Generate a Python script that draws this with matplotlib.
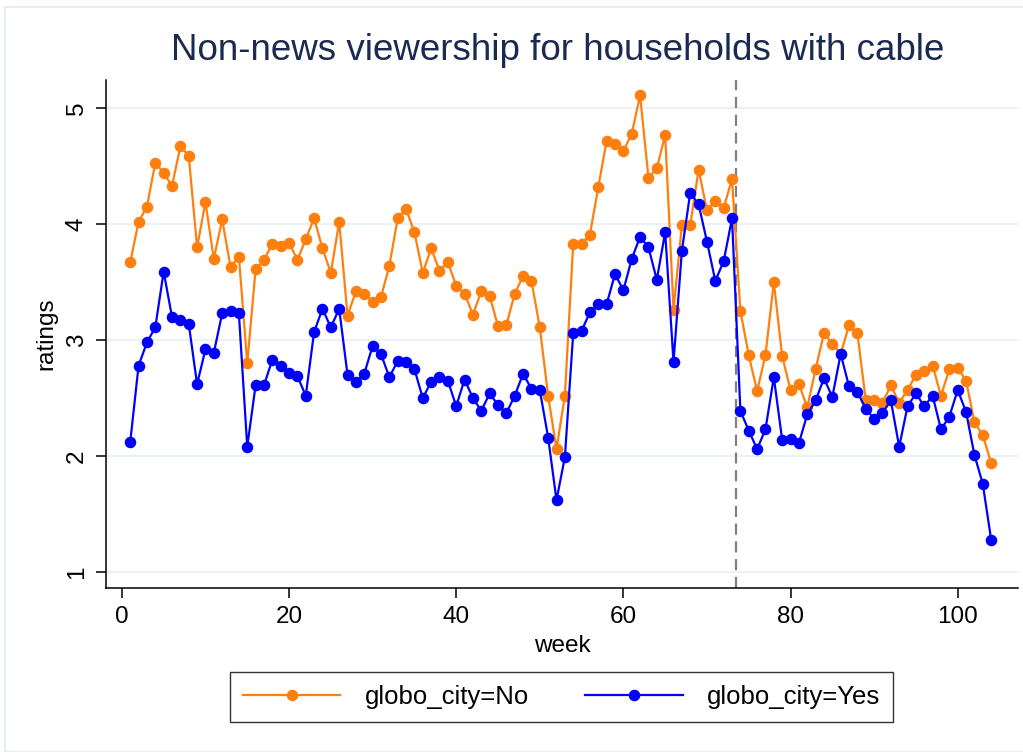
import matplotlib.pyplot as plt
from matplotlib.patches import Rectangle

plt.rcParams['font.family'] = ['Liberation Sans', 'DejaVu Sans']

# weekly ratings
weeks = list(range(1, 105))
ratings_no = [
    3.67, 4.02, 4.15, 4.53, 4.44, 4.33, 4.67, 4.59, 3.80, 4.19,
    3.70, 4.04, 3.63, 3.72, 2.80, 3.61, 3.69, 3.83, 3.81, 3.84,
    3.69, 3.87, 4.05, 3.79, 3.58, 4.02, 3.21, 3.42, 3.40, 3.33,
    3.37, 3.64, 4.05, 4.13, 3.93, 3.58, 3.79, 3.60, 3.67, 3.47,
    3.40, 3.22, 3.42, 3.38, 3.12, 3.13, 3.40, 3.55, 3.51, 3.11,
    2.52, 2.06, 2.52, 3.83, 3.83, 3.91, 4.32, 4.72, 4.69, 4.63,
    4.78, 5.11, 4.40, 4.48, 4.77, 3.26, 3.99, 3.99, 4.47, 4.12,
    4.20, 4.14, 4.39, 3.25, 2.87, 2.56, 2.87, 3.50, 2.86, 2.57,
    2.62, 2.42, 2.75, 3.06, 2.97, 2.88, 3.13, 3.06, 2.48, 2.48,
    2.46, 2.61, 2.46, 2.57, 2.70, 2.73, 2.78, 2.52, 2.75, 2.76,
    2.65, 2.29, 2.18, 1.94,
]
ratings_yes = [
    2.12, 2.78, 2.98, 3.11, 3.59, 3.20, 3.17, 3.14, 2.62, 2.92,
    2.89, 3.23, 3.25, 3.23, 2.08, 2.61, 2.61, 2.83, 2.78, 2.72,
    2.69, 2.52, 3.07, 3.27, 3.11, 3.27, 2.70, 2.64, 2.71, 2.95,
    2.88, 2.68, 2.82, 2.81, 2.75, 2.50, 2.64, 2.68, 2.65, 2.43,
    2.66, 2.50, 2.39, 2.54, 2.44, 2.37, 2.52, 2.71, 2.58, 2.57,
    2.16, 1.62, 1.99, 3.06, 3.08, 3.24, 3.31, 3.31, 3.57, 3.43,
    3.70, 3.89, 3.80, 3.52, 3.93, 2.81, 3.77, 4.27, 4.17, 3.85,
    3.51, 3.68, 4.05, 2.39, 2.22, 2.06, 2.23, 2.68, 2.14, 2.15,
    2.11, 2.36, 2.48, 2.67, 2.51, 2.88, 2.60, 2.55, 2.41, 2.32,
    2.37, 2.48, 2.08, 2.43, 2.54, 2.43, 2.52, 2.23, 2.34, 2.57,
    2.38, 2.01, 1.76, 1.28,
]
break_week = 73.5
x_ticks = [0, 20, 40, 60, 80, 100]
y_ticks = [1, 2, 3, 4, 5]

fig = plt.figure(figsize=(10.23, 7.52), dpi=100)
ax = fig.add_axes([0.1036, 0.218, 0.8914, 0.676])

# light frame around the whole graph (stata style)
fig.patches.append(Rectangle((5 / 1023, 0), 1.1, 1 - 7 / 752, transform=fig.transFigure,
                             fill=False, edgecolor='#e6eef1', linewidth=1.5))

ax.plot(weeks, ratings_no, color='#ff7f0e', marker='o', markersize=7.3, linewidth=1.6,
        label='globo_city=No', zorder=3)
ax.plot(weeks, ratings_yes, color='#0000ff', marker='o', markersize=7.3, linewidth=1.6,
        label='globo_city=Yes', zorder=4)
ax.axvline(break_week, color='#808080', linestyle=(0, (5, 3)), linewidth=1.6, zorder=2)

ax.set_xlim(-1.9, 107.2)
ax.set_ylim(0.862, 5.245)
ax.set_xticks(x_ticks)
ax.set_yticks(y_ticks)
ax.grid(axis='y', color='#eaf2f3', linewidth=1.5, zorder=0)
ax.set_axisbelow(True)

for s in ['top', 'right']:
    ax.spines[s].set_visible(False)
for s in ['left', 'bottom']:
    ax.spines[s].set_linewidth(1.1)

ax.tick_params(axis='both', labelsize=17.5, length=7.2, width=1.1, pad=6)
plt.setp(ax.get_yticklabels(), rotation=90, va='center')

ax.set_xlabel('week', fontsize=17.5, labelpad=5)
ax.set_ylabel('ratings', fontsize=17.5, labelpad=6)
fig.suptitle('Non-news viewership for households with cable', fontsize=26.5,
             color='#1a2a50', x=0.545, y=0.933, va='center')

leg = fig.legend(loc='center', bbox_to_anchor=(0.549, 0.073), ncol=2, fontsize=18.5,
                 frameon=True, fancybox=False, edgecolor='black', handlelength=3.78,
                 columnspacing=2.2, handletextpad=0.95, borderpad=0.5)
leg.get_frame().set_linewidth(1.0)
for h in leg.legend_handles:
    h.set_markersize(7.3)

plt.savefig('out.png', dpi=100, facecolor='white')
